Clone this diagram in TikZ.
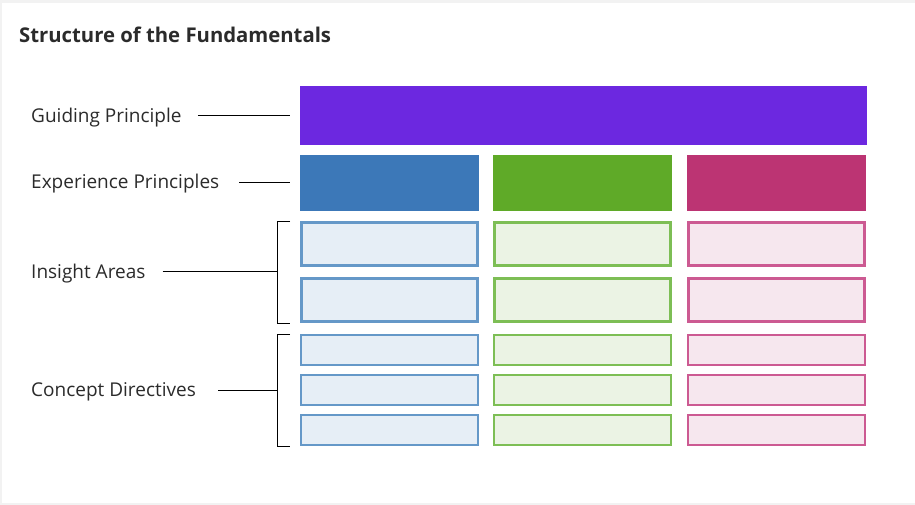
\documentclass[tikz,border=0pt]{standalone}
\usepackage{fontspec}
\setmainfont{Open Sans}
\usepackage{tikz}
\usetikzlibrary{positioning}
\definecolor{fdBack}{HTML}{F2F2F2}
\definecolor{fdInk}{HTML}{2B2B2B}
\definecolor{fdPurple}{HTML}{6C28E0}
\definecolor{fdBlue}{HTML}{3C78B8}
\definecolor{fdGreen}{HTML}{5FAA28}
\definecolor{fdPink}{HTML}{BC3473}
\definecolor{fdBlueLine}{HTML}{6598C8}
\definecolor{fdGreenLine}{HTML}{7DBE55}
\definecolor{fdPinkLine}{HTML}{CC5A92}
\definecolor{fdBlueFill}{HTML}{E6EEF6}
\definecolor{fdGreenFill}{HTML}{EBF3E4}
\definecolor{fdPinkFill}{HTML}{F6E7EE}
\tikzset{
  fd diagram/.style={x=1pt, y=-1pt, text=fdInk, line cap=butt},
  fd label/.style={font=\fontsize{19}{21}\selectfont, anchor=base west, inner sep=0pt},
  fd title/.style={font=\fontsize{20.3}{23}\selectfont\bfseries, anchor=base west, inner sep=0pt},
  fd solid/.style={anchor=north west, inner sep=0pt, outer sep=0pt, minimum width=179pt},
  fd big tile/.style={anchor=north west, inner sep=0pt, line width=3pt,
    minimum width=176pt, minimum height=43pt},
  fd small tile/.style={anchor=north west, inner sep=0pt, line width=2.2pt,
    minimum width=176.8pt, minimum height=29.8pt},
  fd line/.style={draw=black, line width=1pt}
}
\begin{document}
\begin{tikzpicture}[fd diagram]
\useasboundingbox (0,0) rectangle (915,505);
\fill[fdBack] (0,0) rectangle (915,505);
\fill[white] (2,3) rectangle (915,503);
\node[fd title] (title) at (19,42.3) {Structure of the Fundamentals};
% level labels
\node[fd label] (gp) at (31,122.7) {Guiding Principle};
\node[fd label] (ep) at (31,188.5) {Experience Principles};
\node[fd label] (ia) at (31,278) {Insight Areas};
\node[fd label] (cd) at (31,396.5) {Concept Directives};
% top level
\node[fd solid, fill=fdPurple, minimum width=567pt, minimum height=59pt] (guide) at (300,86) {};
% columns
\foreach \i/\x/\c in {1/300/Blue,2/493/Green,3/687/Pink}{
  \node[fd solid, fill=fd\c, minimum height=56pt] (exp\i) at (\x,155) {};
  \node[fd big tile, draw=fd\c Line, fill=fd\c Fill] (ins\i a) at (\x,221) {};
  \node[fd big tile, draw=fd\c Line, fill=fd\c Fill] (ins\i b) at (\x,277) {};
  \foreach \y/\n in {334/a,374/b,414/c}{
    \node[fd small tile, draw=fd\c Line, fill=fd\c Fill] (con\i\n) at (\x,\y) {};
  }
}
% brackets
\coordinate (iaTop) at (290,221);
\coordinate (iaBot) at (290,323.5);
\coordinate (iaMid) at (277,271.5);
\coordinate (cdTop) at (290,334);
\coordinate (cdBot) at (290,446.5);
\coordinate (cdMid) at (277,390);
\draw[fd line] (iaTop) -- ++(-13,0) |- (iaBot);
\draw[fd line] (cdTop) -- ++(-13,0) |- (cdBot);
% leaders
\draw[fd line] ([xshift=16pt]gp.east |- guide.west) -- ([xshift=-10pt]guide.west);
\draw[fd line] ([xshift=20pt]ep.east |- exp1.west) -- ([xshift=-10pt]exp1.west);
\draw[fd line] ([xshift=17pt]ia.east |- iaMid) -- (iaMid);
\draw[fd line] ([xshift=22pt]cd.east |- cdMid) -- (cdMid);
\end{tikzpicture}
\end{document}
